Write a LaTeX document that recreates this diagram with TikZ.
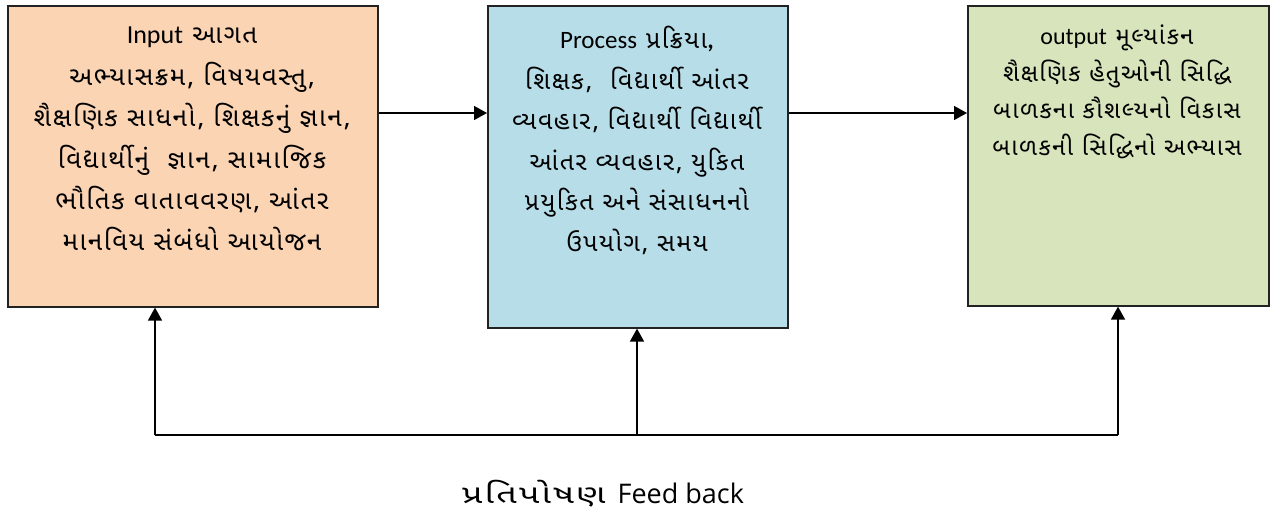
\documentclass[tikz,border=0pt]{standalone}
\usepackage{fontspec}
\setmainfont{Carlito}
\newfontfamily\gu[Script=Gujarati, LetterSpace=6]{Noto Sans Gujarati UI}
\newfontfamily\lab{Open Sans}
\usetikzlibrary{arrows.meta}
\definecolor{peach}{HTML}{FBD4B4}
\definecolor{ltblue}{HTML}{B7DDE8}
\definecolor{ltgreen}{HTML}{D7E4BC}
\definecolor{edge}{HTML}{222222}
\tikzset{
  box/.style={draw=edge, line width=1.6pt, inner sep=0pt, anchor=north west},
  txt/.style={anchor=north, align=center, inner sep=0pt},
  arr/.style={line width=1.6pt, -{Triangle[length=13pt,width=14pt]}},
  ln/.style={line width=1.6pt}
}
\begin{document}
\begin{tikzpicture}[x=1pt,y=-1pt]
\useasboundingbox (0,0) rectangle (1282,511);
\node[box, fill=peach, minimum width=370pt, minimum height=301pt] (b1) at (7,5) {};
\node[box, fill=ltblue, minimum width=300pt, minimum height=322pt] (b2) at (487,5) {};
\node[box, fill=ltgreen, minimum width=301pt, minimum height=300pt] (b3) at (967,5) {};
\node[txt, font=\fontsize{26}{41.4}\selectfont\gu] (t1) at (192,27) {{\rmfamily\fontsize{26}{41.4}\selectfont Input} આગત\\
અભ્યાસક્રમ, વિષયવસ્તુ,\\
શૈક્ષણિક સાધનો, શિક્ષકનું જ્ઞાન,\\
વિદ્યાર્થીનું\ \ જ્ઞાન, સામાજિક\\
ભૌતિક વાતાવવરણ, આંતર\\
માનવિય સંબંધો આયોજન};
\node[txt, font=\fontsize{25}{40.5}\selectfont\gu] (t2) at (637,26) {{\rmfamily\fontsize{25}{40.5}\selectfont Process} પ્રક્રિયા{\rmfamily\fontsize{25}{40.5}\selectfont\textbf{,}}\\
શિક્ષક,\ \ વિદ્યાર્થી આંતર\\
વ્યવહાર, વિદ્યાર્થી વિદ્યાર્થી\\
આંતર વ્યવહાર, યુકિત\\
પ્રયુકિત અને સંસાધનનો\\
ઉપયોગ, સમય};
\node[txt, font=\fontsize{24}{37}\selectfont\gu] (t3) at (1117,25) {{\rmfamily\fontsize{24}{37}\selectfont output} મૂલ્યાંકન\\
શૈક્ષણિક હેતુઓની સિદ્ધિ\\
બાળકના કૌશલ્યનો વિકાસ\\
બાળકની સિદ્ધિનો અભ્યાસ};
\coordinate (ay) at (0,113);
\draw[arr] (b1.east |- ay) -- (b2.west |- ay);
\draw[arr] (b2.east |- ay) -- (b3.west |- ay);
\coordinate (f1) at (155,435);
\coordinate (f2) at (637,435);
\coordinate (f3) at (1118,435);
\draw[ln] (f1) -- (f3);
\draw[arr] (f1) -- (f1 |- b1.south);
\draw[arr] (f2) -- (f2 |- b2.south);
\draw[arr] (f3) -- (f3 |- b3.south);
\node[inner sep=0pt, anchor=base west] (fb) at (462,503) {\scalebox{1.38}[1]{\fontsize{26}{34}\selectfont\gu પ્રતિપોષણ}\hspace{12pt}\lab\fontsize{27}{34}\selectfont Feed back};
\end{tikzpicture}
\end{document}
